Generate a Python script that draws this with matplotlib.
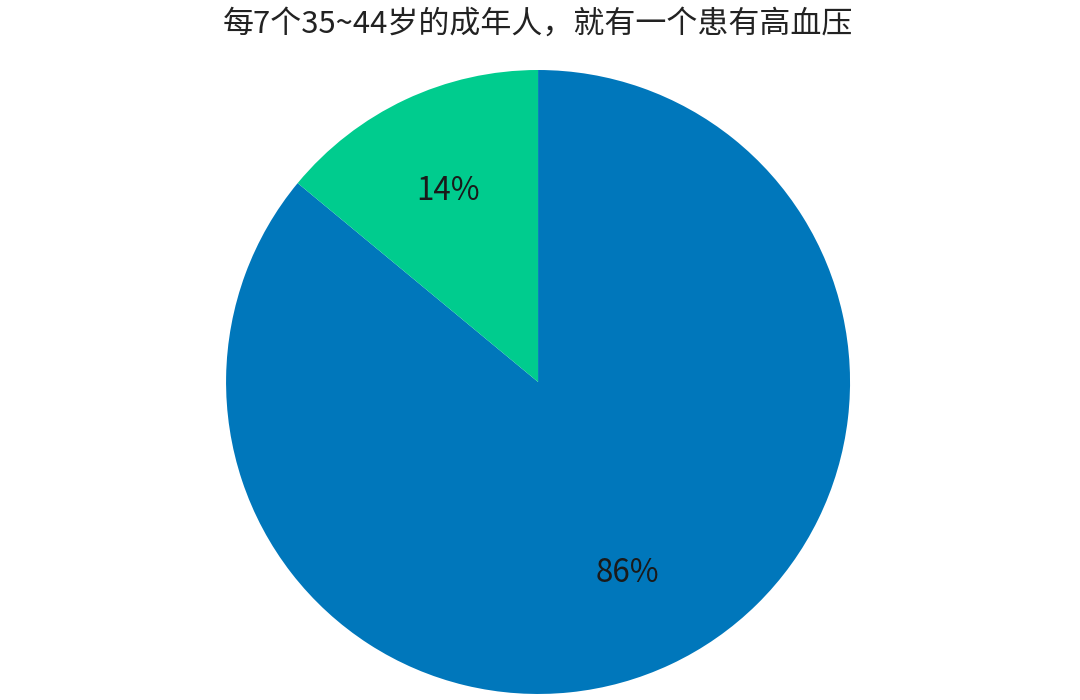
import matplotlib
matplotlib.use('Agg')
from matplotlib import pyplot as plt

plt.rcParams['font.family'] = ['Noto Sans CJK SC', 'DejaVu Sans']

title = '每7个35~44岁的成年人，就有一个患有高血压'
labels = ['无高血压', '患有高血压']
shares = [86, 14]
colors = ['#0077BB', '#00CC8E']

fig = plt.figure(figsize=(10.8, 7), dpi=100)
ax = fig.add_axes([0.2093, 0.0086, 0.5778, 0.8914])

wedges, texts, autotexts = ax.pie(shares, colors=colors, startangle=90, counterclock=False,
                                  autopct='%d%%', pctdistance=0.675, radius=1,
                                  textprops={'fontsize': 22.5, 'color': '#1a1a1a',
                                             'fontweight': 'light'})
ax.set_xlim(-1, 1)
ax.set_ylim(-1, 1)
ax.set_aspect('equal')
ax.axis('off')

fig.text(0.498, 0.966, title, ha='center', va='center', fontsize=22.3, color='#222222',
         fontweight='light')

fig.savefig('out.png', dpi=100)
